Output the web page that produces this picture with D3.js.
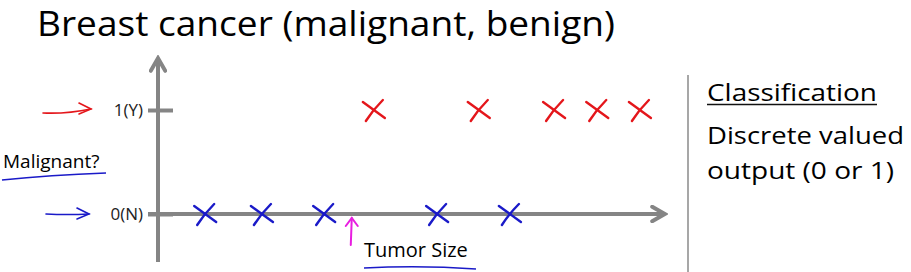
<!DOCTYPE html>
<html>
<head>
<meta charset="utf-8">
<script src="https://cdn.jsdelivr.net/npm/d3@7"></script>
<style>
  body { margin: 0; background: #fff; }
  text { font-family: "Open Sans", "Noto Sans", sans-serif; fill: #000; }
</style>
</head>
<body>
<script>
// tumor size (arbitrary units 0-100) of each example, grouped by label
var benignSizes = [9.4, 20.7, 33.1, 55.6, 70.1];
var malignantSizes = [43.0, 63.9, 78.9, 87.5, 96.0];
var benignLabel = 0, malignantLabel = 1;
var yTicks = [0, 1];
var yTickLabels = ['0(N)', '1(Y)'];
var threshold = 38.6;

var width = 911,
    height = 272;

var svg = d3.select('body').append('svg')
    .attr('width', width)
    .attr('height', height);

var x = d3.scaleLinear().domain([0, 100]).range([158, 660]);
var y = d3.scaleLinear().domain([0, 1]).range([214, 110]);

var axisColor = '#858585',
    red = '#e4161b',
    blue = '#1a1ac8';

// title
svg.append('text')
    .attr('x', 37).attr('y', 36)
    .attr('font-size', 34)
    .attr('textLength', 578).attr('lengthAdjust', 'spacingAndGlyphs')
    .text('Breast cancer (malignant, benign)');

// arrow heads
var defs = svg.append('defs');
defs.append('marker')
    .attr('id', 'ahead')
    .attr('viewBox', '0 0 10 10')
    .attr('refX', 7).attr('refY', 5)
    .attr('markerWidth', 4.5).attr('markerHeight', 4.5)
    .attr('orient', 'auto')
    .append('path')
    .attr('d', 'M1,1 L8,5 L1,9')
    .attr('fill', 'none')
    .attr('stroke', axisColor)
    .attr('stroke-width', 2.2)
    .attr('stroke-linecap', 'round');

// y axis
svg.append('line')
    .attr('x1', x(0)).attr('y1', 262)
    .attr('x2', x(0)).attr('y2', 60)
    .attr('stroke', axisColor).attr('stroke-width', 4)
    .attr('marker-end', 'url(#ahead)');

// x axis
svg.append('line')
    .attr('x1', x(0) - 10).attr('y1', y(0))
    .attr('x2', x(100) + 3).attr('y2', y(0))
    .attr('stroke', axisColor).attr('stroke-width', 4)
    .attr('marker-end', 'url(#ahead)');

// y ticks
var yAxis = d3.axisLeft(y).tickValues(yTicks)
    .tickFormat(function(d, i) { return yTickLabels[i]; })
    .tickSize(0).tickPadding(15);
var gy = svg.append('g')
    .attr('transform', 'translate(' + x(0) + ',0)')
    .call(yAxis);
gy.select('.domain').remove();
gy.selectAll('text')
    .style('font-size', '17px')
    .style('font-family', '"Open Sans", sans-serif')
    .style('fill', '#222');
gy.selectAll('.tick').append('line')
    .attr('x1', -10).attr('x2', 15)
    .attr('stroke', axisColor).attr('stroke-width', 4);

// hand-drawn style arrows pointing at tick labels
function pointer(x1, y1, x2, y2, color) {
    var g = svg.append('g')
        .attr('fill', 'none').attr('stroke', color)
        .attr('stroke-width', 1.6).attr('stroke-linecap', 'round');
    g.append('path').attr('d', 'M' + x1 + ',' + y1 + ' Q' + ((x1 + x2) / 2) + ',' + (y1 + 1) + ' ' + x2 + ',' + y2);
    g.append('path').attr('d', 'M' + (x2 - 12) + ',' + (y2 - 6) + ' L' + x2 + ',' + y2 + ' L' + (x2 - 12) + ',' + (y2 + 5));
}
pointer(43, y(1) + 3, 91, y(1) - 1, red);
pointer(46, y(0), 89, y(0), blue);

// "Malignant?" label
svg.append('text')
    .attr('x', 3).attr('y', 168)
    .attr('font-size', 19)
    .text('Malignant?');
svg.append('path')
    .attr('d', 'M2,180 Q50,175 106,173')
    .attr('fill', 'none').attr('stroke', blue).attr('stroke-width', 1.6);

// x axis label
svg.append('text')
    .attr('x', 364).attr('y', 257)
    .attr('font-size', 20)
    .text('Tumor Size');
svg.append('path')
    .attr('d', 'M364,268 Q420,265 476,269')
    .attr('fill', 'none').attr('stroke', blue).attr('stroke-width', 1.6);

// threshold arrow
var tg = svg.append('g')
    .attr('fill', 'none').attr('stroke', '#e81ee0')
    .attr('stroke-width', 2).attr('stroke-linecap', 'round');
tg.append('path').attr('d', 'M' + (x(threshold) - 1) + ',245 L' + x(threshold) + ',218');
tg.append('path').attr('d', 'M' + (x(threshold) - 6) + ',226 L' + x(threshold) + ',218 L' + (x(threshold) + 6) + ',226');

// data crosses
function crosses(data, label, color, cls) {
    var g = svg.selectAll('.' + cls)
        .data(data)
        .enter().append('g')
        .attr('class', cls)
        .attr('transform', function(d) { return 'translate(' + x(d) + ',' + y(label) + ')'; })
        .attr('stroke', color).attr('stroke-width', 2.4)
        .attr('stroke-linecap', 'round').attr('fill', 'none');
    g.append('path').attr('d', 'M-11,-8 Q0,0 11,8');
    g.append('path').attr('d', 'M9,-10 Q-1,0 -8,11');
}
crosses(benignSizes, benignLabel, blue, 'benign');
crosses(malignantSizes, malignantLabel, red, 'malignant');

// divider and side notes
svg.append('line')
    .attr('x1', 688).attr('y1', 75).attr('x2', 688).attr('y2', 272)
    .attr('stroke', '#8a8a8a').attr('stroke-width', 1.5);

svg.append('text')
    .attr('x', 707).attr('y', 101)
    .attr('font-size', 24)
    .attr('textLength', 170).attr('lengthAdjust', 'spacingAndGlyphs')
    .text('Classification');
svg.append('line')
    .attr('x1', 707).attr('y1', 104.5).attr('x2', 877).attr('y2', 104.5)
    .attr('stroke', '#111').attr('stroke-width', 1.5);
svg.append('text')
    .attr('x', 707).attr('y', 144)
    .attr('font-size', 24)
    .attr('textLength', 197).attr('lengthAdjust', 'spacingAndGlyphs')
    .text('Discrete valued');
svg.append('text')
    .attr('x', 707).attr('y', 179)
    .attr('font-size', 24)
    .attr('textLength', 187).attr('lengthAdjust', 'spacingAndGlyphs')
    .text('output (0 or 1)');
</script>
</body>
</html>
